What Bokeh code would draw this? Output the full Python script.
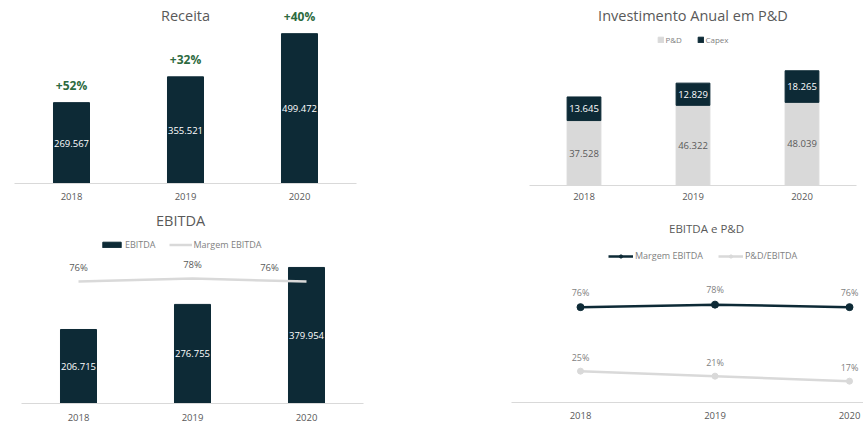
from bokeh.plotting import figure
from bokeh.models import ColumnDataSource, Range1d, FactorRange, LabelSet, Label, FixedTicker
from bokeh.core.properties import value
from bokeh.layouts import column, row
from bokeh.embed import file_html
from bokeh.resources import INLINE

# ---- data ----
anos = ["2018", "2019", "2020"]
anos_num = [2018, 2019, 2020]
receita = [269.567, 355.521, 499.472]
crescimento = ["+52%", "+32%", "+40%"]
pd_invest = [37.528, 46.322, 48.039]
capex = [13.645, 12.829, 18.265]
ebitda = [206.715, 276.755, 379.954]
margem_ebitda = [76, 78, 76]
pd_sobre_ebitda = [25, 21, 17]

DARK = "#0d2a36"
LIGHT = "#d9d9d9"
TXT = "#595959"
TXT2 = "#7f7f7f"
GREEN = "#2d6a40"
FONT = "Open Sans"


def fmt(v):
    return f"{v:.3f}"


def pct(v):
    return f"{v}%"


def base_fig(w, h, x_range, y_range, bl, br, bb):
    p = figure(width=w, height=h, x_range=x_range, y_range=y_range, y_axis_type=None,
               title=None, output_backend="svg", toolbar_location=None,
               min_border_left=bl, min_border_right=br, min_border_top=0, min_border_bottom=bb)
    if "frame_align" in p.properties():
        p.frame_align = False
    p.outline_line_color = None
    p.grid.visible = False
    p.background_fill_color = "white"
    p.border_fill_color = "white"
    ax = p.xaxis[0]
    ax.axis_line_color = LIGHT
    ax.axis_line_width = 1
    ax.major_tick_line_color = None
    ax.minor_tick_line_color = None
    ax.major_tick_out = 0
    ax.major_tick_in = 0
    ax.minor_tick_out = 0
    ax.minor_tick_in = 0
    ax.major_label_text_font = FONT
    ax.major_label_text_font_size = "9.5px"
    ax.major_label_text_color = TXT
    return p


def chart_title(p, text, x, y, size="14.5px"):
    p.add_layout(Label(x=x, y=y, text=text, text_align="center", text_baseline="middle",
                       text_font=FONT, text_font_size=size, text_color=TXT))


def style_legend(p, location, margin, glyph_w, glyph_h, font_size, spacing):
    lg = p.legend[0]
    lg.location = location
    lg.orientation = "horizontal"
    lg.margin = margin
    lg.padding = 2
    lg.spacing = spacing
    lg.label_height = 12
    lg.glyph_height = glyph_h
    lg.glyph_width = glyph_w
    lg.label_standoff = 2
    lg.label_text_font = FONT
    lg.label_text_font_size = font_size
    lg.label_text_color = TXT2
    lg.border_line_color = None
    lg.background_fill_alpha = 0


# ---- Receita ----
Y1 = 610
src1 = ColumnDataSource(dict(ano=anos, v=receita, mid=[v / 2 for v in receita],
                             lab=[fmt(v) for v in receita]))
p1 = base_fig(431, 205, FactorRange(*anos), Range1d(0, Y1), 14, 75, 22)
p1.xaxis.major_label_standoff = 9
p1.vbar(x="ano", top="v", width=0.316, color=DARK, source=src1)
p1.add_layout(LabelSet(x="ano", y="mid", text="lab", source=src1, text_align="center",
                       text_baseline="middle", text_color="white", text_font=value(FONT),
                       text_font_size="9.5px"))
for i, (v, c) in enumerate(zip(receita, crescimento)):
    p1.add_layout(Label(x=i + 0.5, y=v, text=c, y_offset=17, text_align="center",
                        text_baseline="middle", text_color=GREEN, text_font=FONT,
                        text_font_size="12px", text_font_style="bold"))
chart_title(p1, "Receita", 1.5, Y1 * 168 / 183)

# ---- Investimento Anual em P&D ----
Y2 = 106.9
src2 = ColumnDataSource(dict(ano=anos, pd=pd_invest, capex=capex,
                             pd_mid=[v / 2 for v in pd_invest],
                             cx_mid=[a + b / 2 for a, b in zip(pd_invest, capex)],
                             pd_lab=[fmt(v) for v in pd_invest],
                             cx_lab=[fmt(v) for v in capex]))
p2 = base_fig(432, 205, FactorRange(*anos), Range1d(0, Y2), 98, 7, 20)
p2.xaxis.major_label_standoff = 7
p2.vbar_stack(["pd", "capex"], x="ano", width=0.31, color=[LIGHT, DARK], source=src2,
              legend_label=["P&D", "Capex"])
p2.add_layout(LabelSet(x="ano", y="pd_mid", text="pd_lab", source=src2, text_align="center",
                       text_baseline="middle", text_color=TXT, text_font=value(FONT),
                       text_font_size="9.5px"))
p2.add_layout(LabelSet(x="ano", y="cx_mid", text="cx_lab", source=src2, text_align="center",
                       text_baseline="middle", text_color="white", text_font=value(FONT),
                       text_font_size="9.5px"))
style_legend(p2, "top_center", 33, 7, 7, "8px", 11)
chart_title(p2, "Investimento Anual em P&D", 1.5, Y2 * 170 / 185)

# ---- EBITDA ----
Y3 = 553
src3 = ColumnDataSource(dict(ano=anos, v=ebitda, mid=[v / 2 for v in ebitda],
                             lab=[fmt(v) for v in ebitda], m=margem_ebitda,
                             mlab=[pct(v) for v in margem_ebitda], dx=[0, 0, -37]))
p3 = base_fig(431, 221, FactorRange(*anos), Range1d(0, Y3), 21, 68, 23)
p3.extra_y_ranges = {"margem": Range1d(-5.3, 126.7)}
p3.xaxis.major_label_standoff = 10
p3.vbar(x="ano", top="v", width=0.316, color=DARK, source=src3, legend_label="EBITDA")
p3.line(x="ano", y="m", line_color=LIGHT, line_width=2.5, source=src3, y_range_name="margem",
        legend_label="Margem EBITDA")
p3.add_layout(LabelSet(x="ano", y="mid", text="lab", source=src3, text_align="center",
                       text_baseline="middle", text_color="white", text_font=value(FONT),
                       text_font_size="9.5px"))
p3.add_layout(LabelSet(x="ano", y="m", text="mlab", source=src3, y_range_name="margem",
                       x_offset="dx", y_offset=14, text_align="center", text_baseline="middle",
                       text_color=TXT, text_font=value(FONT), text_font_size="9.5px"))
style_legend(p3, (79, 152), 0, 23, 7, "9px", 13)
chart_title(p3, "EBITDA", 1.395, Y3 * 183 / 198)

# ---- EBITDA e P&D ----
Y4 = 157
src4 = ColumnDataSource(dict(ano=anos_num, m=margem_ebitda, r=pd_sobre_ebitda,
                             mlab=[pct(v) for v in margem_ebitda],
                             rlab=[pct(v) for v in pd_sobre_ebitda]))
p4 = base_fig(432, 221, Range1d(2017.487, 2020.104), Range1d(0, Y4), 80, 0, 24)
p4.xaxis.ticker = FixedTicker(ticks=anos_num)
p4.xaxis.major_label_standoff = 9
p4.line(x="ano", y="m", line_color=DARK, line_width=2.5, source=src4, legend_label="Margem EBITDA")
p4.scatter(x="ano", y="m", size=7, color=DARK, source=src4, legend_label="Margem EBITDA")
p4.line(x="ano", y="r", line_color=LIGHT, line_width=2.5, source=src4, legend_label="P&D/EBITDA")
p4.scatter(x="ano", y="r", size=6, color=LIGHT, source=src4, legend_label="P&D/EBITDA")
p4.add_layout(LabelSet(x="ano", y="m", text="mlab", source=src4, y_offset=15,
                       text_align="center", text_baseline="middle", text_color=TXT2,
                       text_font=value(FONT), text_font_size="9px"))
p4.add_layout(LabelSet(x="ano", y="r", text="rlab", source=src4, y_offset=14,
                       text_align="center", text_baseline="middle", text_color=TXT2,
                       text_font=value(FONT), text_font_size="9px"))
style_legend(p4, (97, 140), 0, 25, 8, "9px", 15)
chart_title(p4, "EBITDA e P&D", 2018.937, Y4 * 174 / 197, "11.5px")

layout = column(row(p1, p2, spacing=0), row(p3, p4, spacing=0), spacing=0)
open("out.html", "w").write(file_html(layout, INLINE))
